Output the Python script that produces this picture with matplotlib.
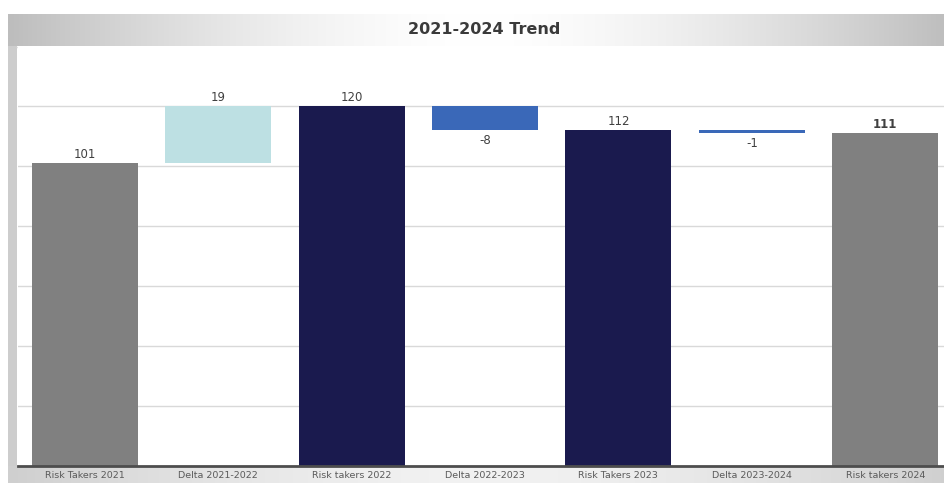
import numpy as np
import matplotlib
matplotlib.use("Agg")
import matplotlib.pyplot as plt
from matplotlib.patches import Rectangle

# Waterfall data
categories = ["Risk Takers 2021", "Delta 2021-2022", "Risk takers 2022",
              "Delta 2022-2023", "Risk Takers 2023", "Delta 2023-2024",
              "Risk takers 2024"]
totals = [101, 120, 112, 111]
deltas = [19, -8, -1]
title = "2021-2024 Trend"

C_TOTAL_GRAY = "#808080"
C_TOTAL_NAVY = "#1a1a4e"
C_UP = "#bde0e3"
C_DOWN = "#3a68b8"
TXT = "#404040"

W, H = 945, 483
fig = plt.figure(figsize=(W / 100, H / 100), dpi=100)
fig.patch.set_facecolor("white")

# ---- frame: header band, left border, footer band (pixel coordinates) ----
bg = fig.add_axes([0, 0, 1, 1], zorder=0)
bg.set_xlim(0, W)
bg.set_ylim(H, 0)
bg.axis("off")

def hgrad(x0, x1, y0, y1, edge, mid):
    n = 256
    t = np.abs(np.linspace(-1, 1, n)) ** 1.6
    e = np.array(matplotlib.colors.to_rgb(edge))
    m = np.array(matplotlib.colors.to_rgb(mid))
    row = m[None, :] * (1 - t[:, None]) + e[None, :] * t[:, None]
    img = np.repeat(row[None, :, :], 2, axis=0)
    bg.imshow(img, extent=(x0, x1, y1, y0), aspect="auto", interpolation="bilinear")

hgrad(8, W + 6, 14, 46, "#bdbdbd", "#ffffff")
hgrad(8, W + 6, 466, H, "#cfcfcf", "#f2f2f2")
bg.add_patch(Rectangle((8, 46), 9, 420, color="#cdcdcd", lw=0))
bg.plot([17, W], [46.5, 46.5], color="#e2e2e2", lw=1)
bg.set_xlim(0, W)
bg.set_ylim(H, 0)
bg.text(484, 30, title, ha="center", va="center", fontsize=11.5,
        fontweight="bold", color="#3a3a3a", family="DejaVu Sans")

# ---- chart axes ----
x0, x1 = 18 / W, 952 / W
yb, yt = (H - 466) / H, (H - 46) / H
ax = fig.add_axes([x0, yb, x1 - x0, yt - yb], zorder=1)
ax.set_facecolor("white")
ax.set_xlim(-0.5, len(categories) - 0.5)
ax.set_ylim(0, 140)

# build bar geometry from totals and deltas
bottoms, heights, colors = [], [], []
total_colors = [C_TOTAL_GRAY, C_TOTAL_NAVY, C_TOTAL_NAVY, C_TOTAL_GRAY]
for i, tot in enumerate(totals):
    bottoms.append(0)
    heights.append(tot)
    colors.append(total_colors[i])
    if i < len(deltas):
        d = deltas[i]
        bottoms.append(tot if d >= 0 else tot + d)
        heights.append(abs(d))
        colors.append(C_UP if d >= 0 else C_DOWN)

xs = np.arange(len(categories))
ax.bar(xs, heights, bottom=bottoms, width=0.795, color=colors, zorder=3, lw=0)

# value labels
labels = []
for i, tot in enumerate(totals):
    labels.append(tot)
    if i < len(deltas):
        labels.append(deltas[i])
for i, (x, v) in enumerate(zip(xs, labels)):
    is_delta = i % 2 == 1
    top = bottoms[i] + heights[i]
    bold = i == len(labels) - 1
    if is_delta and v < 0:
        ax.text(x, bottoms[i] - 1.2, f"{v}", ha="center", va="top",
                fontsize=8.5, color=TXT)
    else:
        ax.text(x, top + 0.8, f"{v}", ha="center", va="bottom", fontsize=8.5,
                color=TXT, fontweight="bold" if bold else "normal")

ax.set_yticks(np.arange(20, 140, 20))
ax.yaxis.grid(True, color="#d9d9d9", lw=1, zorder=0)
ax.tick_params(axis="y", left=False, labelleft=False)
ax.set_xticks(xs)
ax.set_xticklabels(categories, fontsize=6.8, color="#5a5a5a",
                   family=["Liberation Sans Narrow", "DejaVu Sans"])
ax.tick_params(axis="x", length=0, pad=3.5)
for s in ["top", "right", "left"]:
    ax.spines[s].set_visible(False)
ax.spines["bottom"].set_color("#4d4d4d")
ax.spines["bottom"].set_linewidth(2)
ax.spines["bottom"].set_zorder(4)

fig.savefig("out.png", dpi=100)
